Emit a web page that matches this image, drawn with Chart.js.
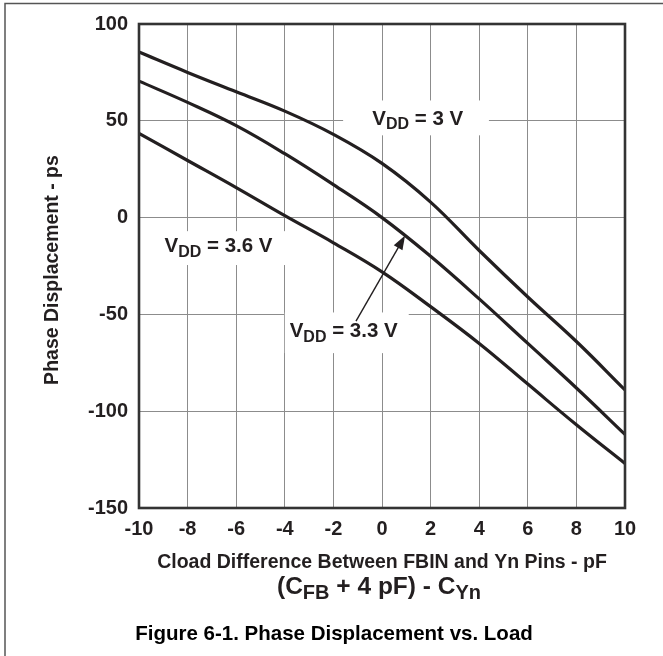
<!DOCTYPE html>
<html>
<head>
  <title>Phase Displacement vs. Load</title>
  <script src="https://cdn.jsdelivr.net/npm/chart.js"></script>
  <style>
    html, body { margin: 0; padding: 0; background: #fff; }
    .chart-container { position: relative; width: 663px; height: 656px; }
  </style>
</head>
<body>
  <div class="chart-container">
    <canvas id="myChart"></canvas>
  </div>
  <script>
    // x: Cload difference (pF)
    const loadDiff = [-10, -8, -6, -4, -2, 0, 2, 4, 6, 8, 10];
    // phase displacement (ps) for each VDD
    const vdd30 = [85.5, 75, 65, 55, 43, 28, 8, -17, -41, -64, -89];
    const vdd33 = [70.5, 59.5, 47.5, 33, 17, 0, -20, -42, -65, -88, -112];
    const vdd36 = [43.5, 29.5, 15.5, 1, -13, -28, -46, -65, -86, -107, -127];
    const yTicks = [-150, -100, -50, 0, 50, 100];

    const FONT = '"Liberation Sans", Arial, sans-serif';
    const INK = '#231f20';

    const toPoints = (ys) => loadDiff.map((x, i) => ({ x: x, y: ys[i] }));

    const series = (label, ys) => ({
      label: label,
      data: toPoints(ys),
      borderColor: INK,
      borderWidth: 3.2,
      pointRadius: 0,
      fill: false,
      tension: 0.4
    });

    // text with a subscript part: [main, sub, main, sub, ...]
    function drawSubText(ctx, parts, x, y, size, align) {
      const subSize = Math.round(size * 0.8);
      let total = 0;
      parts.forEach((p, i) => {
        ctx.font = 'bold ' + (i % 2 ? subSize : size) + 'px ' + FONT;
        total += ctx.measureText(p).width;
      });
      let cx = align === 'center' ? x - total / 2 : x;
      ctx.textAlign = 'left';
      ctx.textBaseline = 'middle';
      parts.forEach((p, i) => {
        ctx.font = 'bold ' + (i % 2 ? subSize : size) + 'px ' + FONT;
        ctx.fillText(p, cx, i % 2 ? y + size * 0.28 : y);
        cx += ctx.measureText(p).width;
      });
      return total;
    }

    const decor = {
      id: 'decor',
      beforeDatasetsDraw(chart) {
        const { ctx, scales: { x, y } } = chart;
        // white boxes behind curve labels (break the grid)
        ctx.save();
        ctx.fillStyle = '#fff';
        [[-1.6, 60.5, 4.4, 42.5], [-9.3, -7, -3.9, -24.5], [-4.0, -49, 1.1, -70]].forEach(b => {
          const x1 = x.getPixelForValue(b[0]), x2 = x.getPixelForValue(b[2]);
          const y1 = y.getPixelForValue(b[1]), y2 = y.getPixelForValue(b[3]);
          ctx.fillRect(x1, y1, x2 - x1, y2 - y1);
        });
        ctx.restore();
      },
      afterDraw(chart) {
        const { ctx, chartArea: a, scales: { x, y } } = chart;
        ctx.save();
        // page frame
        ctx.strokeStyle = '#555';
        ctx.lineWidth = 1.5;
        ctx.beginPath();
        ctx.moveTo(5, 656);
        ctx.lineTo(5, 3.5);
        ctx.lineTo(663, 3.5);
        ctx.stroke();
        // plot frame
        ctx.strokeStyle = '#333';
        ctx.lineWidth = 2.6;
        ctx.strokeRect(a.left, a.top, a.right - a.left, a.bottom - a.top);

        ctx.fillStyle = INK;
        // curve labels
        drawSubText(ctx, ['V', 'DD', ' = 3 V'], x.getPixelForValue(-0.4), y.getPixelForValue(51), 20.5);
        drawSubText(ctx, ['V', 'DD', ' = 3.6 V'], x.getPixelForValue(-8.95), y.getPixelForValue(-15), 20.5);
        drawSubText(ctx, ['V', 'DD', ' = 3.3 V'], x.getPixelForValue(-3.8), y.getPixelForValue(-59), 20.5);

        // arrow to the 3.3 V curve
        const ax = x.getPixelForValue(-1.07), ay = y.getPixelForValue(-53.5);
        const tx = x.getPixelForValue(0.95), ty = y.getPixelForValue(-9.3);
        const ang = Math.atan2(ty - ay, tx - ax);
        ctx.strokeStyle = INK;
        ctx.lineWidth = 1.4;
        ctx.beginPath();
        ctx.moveTo(ax, ay);
        ctx.lineTo(tx - 10 * Math.cos(ang), ty - 10 * Math.sin(ang));
        ctx.stroke();
        ctx.beginPath();
        ctx.moveTo(tx, ty);
        ctx.lineTo(tx - 14 * Math.cos(ang) + 5 * Math.sin(ang), ty - 14 * Math.sin(ang) - 5 * Math.cos(ang));
        ctx.lineTo(tx - 14 * Math.cos(ang) - 5 * Math.sin(ang), ty - 14 * Math.sin(ang) + 5 * Math.cos(ang));
        ctx.closePath();
        ctx.fill();

        // axis titles
        ctx.textAlign = 'center';
        ctx.textBaseline = 'middle';
        ctx.font = 'bold 19.5px ' + FONT;
        ctx.fillText('Cload Difference Between FBIN and Yn Pins - pF', 382, 563);
        drawSubText(ctx, ['(C', 'FB', ' + 4 pF) - C', 'Yn'], 379, 587, 24.5, 'center');

        ctx.save();
        ctx.translate(53, 270);
        ctx.rotate(-Math.PI / 2);
        ctx.textAlign = 'center';
        ctx.font = 'bold 19.5px ' + FONT;
        ctx.fillText('Phase Displacement - ps', 0, 0);
        ctx.restore();

        // caption
        ctx.fillStyle = '#000';
        ctx.textAlign = 'center';
        ctx.font = 'bold 20.5px ' + FONT;
        ctx.fillText('Figure 6-1. Phase Displacement vs. Load', 334, 634);
        ctx.restore();
      }
    };

    new Chart(document.getElementById('myChart').getContext('2d'), {
      type: 'line',
      data: {
        datasets: [
          series('VDD = 3 V', vdd30),
          series('VDD = 3.3 V', vdd33),
          series('VDD = 3.6 V', vdd36)
        ]
      },
      options: {
        animation: false,
        responsive: true,
        maintainAspectRatio: false,
        devicePixelRatio: 1,
        layout: { autoPadding: false, padding: { left: 0, top: 24, right: 38, bottom: 0 } },
        plugins: { legend: { display: false }, tooltip: { enabled: false } },
        scales: {
          x: {
            type: 'linear',
            min: -10,
            max: 10,
            afterFit: (s) => { s.height = 148; },
            ticks: {
              stepSize: 2,
              padding: 9,
              color: INK,
              font: { family: FONT, size: 20, weight: 'bold' }
            },
            grid: { color: '#8c8c8c', lineWidth: 1, drawTicks: false },
            border: { display: false }
          },
          y: {
            type: 'linear',
            min: -150,
            max: 100,
            afterFit: (s) => { s.width = 139; },
            afterBuildTicks: (s) => { s.ticks = yTicks.map(v => ({ value: v })); },
            ticks: {
              padding: 11,
              color: INK,
              font: { family: FONT, size: 20, weight: 'bold' }
            },
            grid: { color: '#8c8c8c', lineWidth: 1, drawTicks: false },
            border: { display: false }
          }
        }
      },
      plugins: [decor]
    });
  </script>
</body>
</html>
